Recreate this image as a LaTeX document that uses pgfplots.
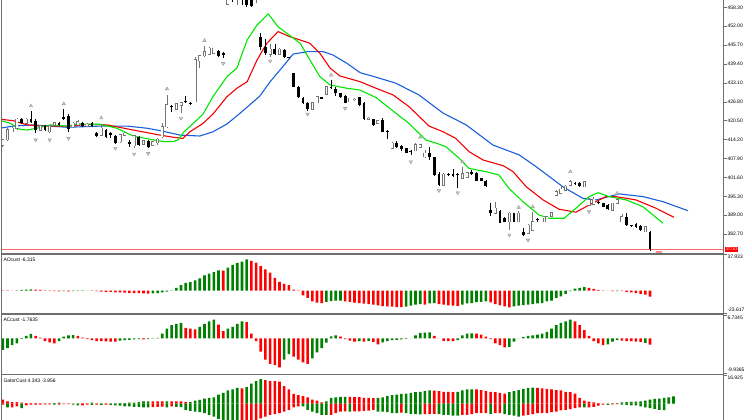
\documentclass[border=0pt]{standalone}
\usepackage{pgfplots}
\pgfplotsset{compat=1.18}
\usepackage{pgfplotstable}
\usepackage{fontspec}
\setmainfont{Liberation Sans}
\definecolor{mtgreen}{RGB}{0,128,0}
\definecolor{mtred}{RGB}{255,0,0}
\definecolor{lips}{RGB}{0,230,0}
\definecolor{teeth}{RGB}{240,0,0}
\definecolor{jaw}{RGB}{25,95,220}
\definecolor{frame}{RGB}{110,110,110}
\definecolor{fract}{RGB}{205,205,205}
\definecolor{fractd}{RGB}{150,150,150}
\definecolor{bullc}{RGB}{115,115,115}
\newcommand{\lbl}{\fontsize{5}{6}\selectfont}

\pgfplotstableread{
i O H L C
0 412.4 414.4 411.7 414.1
1 414.1 418.1 413.7 417.4
2 416.8 418.4 416.7 418.0
3 418.0 421.4 417.4 421.0
4 421.0 421.4 419.4 419.8
5 419.6 421.4 419.4 421.0
6 421.0 423.8 419.8 420.2
7 420.5 421.1 416.4 417.4
8 417.4 419.1 417.1 418.7
9 418.7 419.1 417.1 417.4
10 416.8 419.1 416.3 418.7
11 419.0 420.2 418.7 419.8
12 419.7 420.1 418.7 419.0
13 421.6 424.3 420.7 421.0
14 422.1 422.7 416.7 417.6
15 418.5 420.1 418.2 419.6
16 419.1 420.7 418.7 420.2
17 419.6 420.1 418.4 418.7
18 418.7 419.7 418.4 419.3
19 419.6 420.0 418.4 418.7
20 416.3 416.7 415.1 415.4
21 415.7 419.3 415.4 418.0
22 417.4 417.7 414.8 415.2
23 416.3 416.8 414.6 415.7
24 415.4 415.7 412.7 413.2
25 413.5 416.1 413.2 415.7
26 415.7 416.7 415.4 416.3
27 413.5 414.1 411.8 412.7
28 412.1 415.7 411.3 415.4
29 415.2 415.5 412.1 412.4
30 412.7 414.1 412.4 413.8
31 413.8 414.1 411.4 411.6
32 412.4 413.7 412.2 413.5
33 413.2 414.6 412.4 414.3
34 415.2 419.6 414.6 418.5
35 418.5 429.1 418.2 425.7
36 425.4 425.6 423.5 425.0
37 424.3 426.4 424.1 426.1
38 425.6 426.7 422.9 426.5
39 427.0 428.7 426.3 426.8
40 426.5 426.7 425.8 426.1
41 426.8 441.6 426.7 440.7
42 440.5 442.4 438.0 442.1
43 442.1 445.4 441.8 443.5
44 442.7 445.0 442.5 444.6
45 443.0 444.8 442.7 444.6
46 443.8 444.2 441.7 442.1
47 443.2 443.5 441.4 442.4
48 459.4 465.4 459.1 464.1
49 465.7 467.4 460.1 462.4
50 461.7 468.1 459.1 466.7
51 464.7 466.1 459.1 461.4
52 463.4 464.7 458.4 459.1
53 462.4 463.4 458.4 458.7
54 461.4 465.7 459.7 464.7
55 448.3 449.6 444.1 445.2
56 445.2 447.6 442.4 443.0
57 442.7 446.1 441.7 444.3
58 444.3 446.1 442.4 442.7
59 442.7 444.7 442.4 444.3
60 444.1 444.4 441.4 441.6
61 441.7 441.8 441.0 441.4
62 436.3 436.5 431.6 431.8
63 431.8 432.1 428.0 428.3
64 428.0 428.3 426.1 426.3
65 426.5 426.8 423.8 424.3
66 424.3 426.8 424.1 426.5
67 426.5 428.7 426.3 428.5
68 428.3 428.4 427.7 427.8
69 429.4 432.1 429.2 431.8
70 431.8 434.1 431.1 431.4
71 431.0 431.8 428.7 429.6
72 429.6 429.8 428.1 428.3
73 428.7 429.1 426.3 426.5
74 426.8 428.2 426.6 428.0
75 427.5 428.2 427.2 427.6
76 428.3 428.5 425.5 425.7
77 426.3 426.7 420.7 421.0
78 421.0 421.7 420.7 421.3
79 421.0 421.2 418.7 419.1
80 419.6 420.7 419.4 420.4
81 420.7 421.4 416.6 416.8
82 417.2 417.4 414.3 416.8
83 411.3 413.5 411.1 413.0
84 413.0 413.7 411.4 411.6
85 412.1 412.3 410.5 411.0
86 411.3 411.5 409.6 409.8
87 410.2 410.7 409.1 410.0
88 410.5 413.0 410.3 412.4
89 411.6 412.7 411.4 412.4
90 408.5 410.7 408.0 409.6
91 409.8 411.6 407.4 408.3
92 408.3 408.5 402.2 402.4
93 402.9 403.4 398.8 399.1
94 399.1 403.1 398.8 402.7
95 402.6 403.1 402.1 402.4
96 402.7 404.3 401.8 402.1
97 402.9 403.2 398.0 402.4
98 401.3 405.2 401.1 402.9
99 401.6 403.4 401.4 403.2
100 403.4 404.1 402.4 402.9
101 403.2 403.4 400.3 400.5
102 401.3 401.5 400.3 400.5
103 400.5 400.7 398.4 398.7
104 390.9 393.0 388.7 389.6
105 389.6 393.5 389.4 391.3
106 390.4 390.7 386.3 386.5
107 388.0 388.4 386.6 386.8
108 386.8 390.1 384.1 389.6
109 389.6 389.8 386.6 386.8
110 386.8 390.4 386.6 389.6
111 383.5 384.9 382.1 382.4
112 383.0 386.1 382.7 385.7
113 384.1 390.2 383.7 386.8
114 387.5 388.0 386.8 387.3
115 386.8 388.2 386.6 388.0
116 386.8 388.7 386.6 388.5
117 388.7 390.1 388.5 389.8
118 395.7 397.4 395.4 396.8
119 396.3 399.1 396.1 397.6
120 397.4 399.0 397.2 398.7
121 399.1 400.9 398.8 400.2
122 399.8 400.1 399.2 399.4
123 399.8 400.1 398.5 398.7
124 398.5 400.4 398.3 400.2
125 392.4 394.6 392.1 394.1
126 392.7 395.2 392.5 394.3
127 393.5 393.8 392.7 393.0
128 393.0 393.2 391.6 391.8
129 392.4 392.6 390.7 391.0
130 390.7 393.2 390.5 393.0
131 393.0 394.8 392.7 394.1
132 386.8 389.4 386.6 388.5
133 388.5 389.8 385.5 385.7
134 385.5 385.8 385.1 385.3
135 386.1 386.3 384.7 385.0
136 385.4 385.6 383.8 384.1
137 383.5 385.4 383.3 385.2
138 383.5 383.8 377.1 377.6
}\candles

\pgfplotstableread{
i v c
0 0.2 0
1 0.1 0
2 -0.1 0
3 0.2 1
4 0.6 1
5 1.0 1
6 1.3 1
7 1.1 0
8 0.6 0
9 0.2 0
10 -0.3 0
11 -0.6 0
12 -0.8 0
13 -0.7 1
14 -0.9 0
15 -0.6 1
16 -0.4 1
17 -0.3 1
18 -0.2 1
19 -0.4 0
20 -0.7 0
21 -1.0 0
22 -1.3 0
23 -1.5 0
24 -1.8 0
25 -2.0 0
26 -2.2 0
27 -2.5 0
28 -2.7 0
29 -2.8 0
30 -3.0 0
31 -3.1 0
32 -2.9 1
33 -2.6 1
34 -2.0 1
35 -1.0 1
36 0.3 1
37 2.8 1
38 5.7 1
39 8.1 1
40 8.8 1
41 10.6 1
42 12.7 1
43 15.9 1
44 17.7 1
45 19.4 1
46 21.2 1
47 20.9 0
48 24.0 1
49 26.9 1
50 29.0 1
51 30.4 1
52 32.9 1
53 31.1 0
54 29.4 0
55 25.8 0
56 22.3 0
57 18.8 0
58 13.4 0
59 9.2 0
60 7.1 0
61 5.7 0
62 1.1 0
63 -0.3 0
64 -5.0 0
65 -7.8 0
66 -11.3 0
67 -12.6 0
68 -13.3 0
69 -12.0 1
70 -11.0 1
71 -10.7 1
72 -10.5 1
73 -11.3 0
74 -12.0 0
75 -12.7 0
76 -13.1 0
77 -13.8 0
78 -14.2 0
79 -14.9 0
80 -15.6 0
81 -16.4 0
82 -16.6 0
83 -17.0 0
84 -17.3 0
85 -17.4 0
86 -17.0 1
87 -15.9 1
88 -14.9 1
89 -14.2 1
90 -14.9 0
91 -13.6 1
92 -13.1 1
93 -14.2 0
94 -14.9 0
95 -15.6 0
96 -15.8 0
97 -16.0 0
98 -14.9 1
99 -13.4 1
100 -13.1 1
101 -12.3 1
102 -12.0 1
103 -11.3 1
104 -12.4 0
105 -14.2 0
106 -15.6 0
107 -16.6 0
108 -17.7 0
109 -16.6 1
110 -15.8 1
111 -15.4 1
112 -14.9 1
113 -14.2 1
114 -13.5 1
115 -13.1 1
116 -11.3 1
117 -10.6 1
118 -7.8 1
119 -6.0 1
120 -3.5 1
121 -0.7 1
122 2.1 1
123 2.8 1
124 3.5 1
125 2.8 0
126 1.8 0
127 0.4 0
128 -0.3 0
129 -0.2 1
130 -0.7 0
131 -0.5 1
132 -0.7 0
133 -1.4 0
134 -1.8 0
135 -2.8 0
136 -3.5 0
137 -4.2 0
138 -6.3 0
}\aodata

\pgfplotstableread{
i v c
0 -3.3 1
1 -2.8 1
2 -1.9 1
3 -1.4 1
4 -0.1 1
5 0.75 1
6 1.3 1
7 0.75 0
8 0.2 0
9 -0.75 0
10 -1.1 0
11 -1.4 0
12 -0.75 1
13 0.5 1
14 0.9 1
15 0.95 1
16 0.7 0
17 0.2 0
18 -0.2 0
19 -0.5 0
20 -0.75 0
21 -0.8 0
22 -0.85 0
23 -0.9 0
24 -0.95 0
25 -0.6 1
26 -0.5 1
27 -0.4 1
28 -0.3 1
29 -0.2 1
30 -0.25 0
31 -0.2 1
32 0.1 1
33 0.15 1
34 1.4 1
35 2.8 1
36 3.8 1
37 4.2 1
38 4.5 1
39 3.0 0
40 2.8 0
41 2.6 0
42 3.3 1
43 4.2 1
44 4.9 1
45 5.4 1
46 4.0 0
47 2.1 0
48 2.8 1
49 3.3 1
50 4.2 1
51 4.9 1
52 4.7 0
53 1.4 0
54 -0.75 0
55 -3.8 0
56 -6.1 0
57 -7.3 0
58 -7.7 0
59 -8.3 0
60 -6.1 1
61 -4.5 1
62 -5.2 0
63 -6.1 0
64 -6.9 0
65 -7.3 0
66 -5.7 1
67 -4.0 1
68 -2.8 1
69 -1.2 1
70 0.6 1
71 0.9 1
72 0.5 0
73 -0.2 0
74 -0.6 0
75 -0.9 0
76 -0.8 1
77 -0.9 0
78 -0.7 1
79 -1.0 0
80 -1.7 0
81 -1.1 1
82 -0.75 1
83 -0.5 1
84 -0.4 1
85 -0.3 1
86 -0.1 1
87 0.05 1
88 0.9 1
89 1.6 1
90 1.7 1
91 1.75 1
92 0.75 0
93 0.05 0
94 -0.7 0
95 -0.75 0
96 -0.8 0
97 -0.5 1
98 0.9 1
99 1.4 1
100 1.45 1
101 1.4 0
102 1.1 0
103 0.5 0
104 -0.2 0
105 -1.4 0
106 -1.9 0
107 -2.6 0
108 -2.4 1
109 -0.9 1
110 0.05 1
111 0.4 1
112 0.75 1
113 0.9 1
114 1.1 1
115 1.4 1
116 1.9 1
117 2.8 1
118 3.8 1
119 4.5 1
120 4.9 1
121 5.4 1
122 4.9 0
123 3.8 0
124 2.4 0
125 0.75 0
126 -0.75 0
127 -1.4 0
128 -1.9 0
129 -1.7 1
130 -0.9 1
131 -0.5 1
132 -0.6 0
133 -0.75 0
134 -0.8 0
135 -0.9 0
136 -1.0 0
137 -1.3 1
138 -1.76 0
}\acdata

\pgfplotstableread{
i up cu low cl
0 2.44 0 -0.61 0
1 1.43 0 -2.24 1
2 1.02 0 -2.24 0
3 1.02 0 -1.63 0
4 0.61 0 -2.65 1
5 0.41 0 -1.02 0
6 0.41 0 -0.61 0
7 0.41 0 -0.61 0
8 0.2 0 -0.61 0
9 0.2 0 -0.41 0
10 0.2 0 -0.41 0
11 0.41 1 -0.61 1
12 0.61 1 -0.61 0
13 0.05 0 -0.2 0
14 0.05 0 -0.2 0
15 0.05 0 -0.61 1
16 0.2 1 -1.02 1
17 0.2 0 -1.02 0
18 0.2 0 -0.61 0
19 0.61 1 -0.65 1
20 0.2 0 -0.61 0
21 0.25 1 -0.65 1
22 0.25 0 -0.61 0
23 0.2 0 -0.65 1
24 0.25 1 -1.02 1
25 0.3 1 -1.22 1
26 0.35 1 -1.63 1
27 0.61 1 -1.65 1
28 0.65 1 -1.83 1
29 1.02 1 -1.85 1
30 1.43 1 -2.24 1
31 1.45 1 -2.26 1
32 1.40 0 -2.04 0
33 1.38 0 -1.83 0
34 1.35 0 -1.80 0
35 1.43 1 -2.24 1
36 1.40 0 -1.63 0
37 1.38 0 -1.83 1
38 1.35 0 -2.04 1
39 1.02 0 -3.67 1
40 1.10 1 -4.28 1
41 1.83 1 -4.69 1
42 2.24 1 -5.09 1
43 3.06 1 -5.70 1
44 3.46 1 -6.72 1
45 3.87 1 -7.74 1
46 5.50 1 -9.17 1
47 6.52 1 -10.5 1
48 7.94 1 -11 1
49 8.56 1 -12 1
50 9.57 1 -12.5 1
51 9.17 0 -12.4 0
52 9.98 1 -12 0
53 12.0 1 -11.5 0
54 13.6 1 -11 0
55 14.7 1 -8.76 0
56 14.1 0 -7.74 0
57 13.6 0 -6.72 0
58 13.5 0 -6.31 0
59 13.2 0 -5.70 0
60 10.6 0 -4.69 0
61 8.56 0 -3.67 0
62 5.91 0 -2.24 0
63 5.09 0 -1.63 0
64 4.48 0 -1.65 1
65 3.87 0 -3.67 1
66 2.44 0 -4.69 1
67 1.83 0 -5.70 1
68 0.81 0 -6.72 1
69 1.43 1 -6.75 1
70 3.46 1 -6.72 0
71 3.87 1 -5.70 0
72 4.07 1 -4.69 0
73 4.10 1 -4.65 0
74 4.05 0 -4.70 1
75 4.00 0 -4.65 0
76 3.90 0 -4.60 0
77 3.50 0 -4.28 0
78 3.46 0 -4.20 0
79 3.40 0 -3.67 0
80 3.46 1 -4.69 1
81 3.87 1 -4.70 1
82 4.48 1 -5.09 1
83 5.09 1 -5.70 1
84 5.50 1 -5.72 1
85 5.91 1 -5.30 0
86 6.11 1 -5.70 1
87 6.52 1 -6.11 1
88 6.93 1 -6.31 1
89 7.13 1 -6.33 1
90 7.54 1 -6.31 0
91 7.94 1 -6.30 0
92 7.90 0 -6.11 0
93 7.54 0 -6.31 1
94 7.13 0 -6.72 1
95 7.10 0 -6.75 1
96 6.93 0 -7.13 1
97 7.13 1 -7.15 1
98 7.94 1 -6.72 0
99 8.56 1 -6.70 0
100 8.60 1 -6.31 0
101 8.56 0 -5.70 0
102 8.15 0 -5.68 0
103 7.54 0 -5.65 0
104 7.13 0 -6.11 1
105 6.93 0 -5.70 0
106 6.52 0 -5.68 0
107 6.11 0 -6.31 1
108 6.93 1 -6.72 1
109 7.54 1 -7.13 1
110 8.15 1 -7.74 1
111 8.96 1 -7.13 0
112 9.57 1 -6.72 0
113 9.60 1 -6.31 0
114 9.57 0 -5.70 0
115 9.17 0 -5.68 0
116 8.96 0 -5.65 0
117 8.56 0 -5.09 0
118 8.15 0 -4.69 0
119 7.94 0 -4.07 0
120 7.13 0 -3.67 0
121 6.93 0 -3.26 0
122 6.11 0 -2.65 0
123 3.46 0 -2.24 0
124 1.83 0 -2.26 1
125 1.22 0 -2.24 0
126 0.81 0 -1.83 0
127 0.41 0 -1.22 0
128 0.05 0 -0.61 0
129 0.08 1 -0.63 1
130 0.2 1 -0.41 0
131 0.41 1 -0.2 0
132 0.81 1 -0.61 1
133 1.02 1 -0.63 1
134 1.05 1 -1.02 1
135 1.22 1 -1.04 1
136 1.43 1 -1.63 1
137 1.83 1 -2.24 1
138 2.44 1 -2.65 1
139 2.85 1 -3.06 1
140 3.06 1 -3.67 1
141 3.46 1 -3.86 1
142 3.87 1 0 1
143 4.34 1 0 1
}\gatordata

\pgfplotsset{
  mtaxis/.style={scale only axis, width=722pt, xmin=-0.277, xmax=153.67,
    anchor=north west, axis line style={draw=none}, xtick=\empty,
    ytick pos=right, yticklabel pos=right, tick align=outside,
    major tick length=3pt, tick style={frame, line width=0.5pt},
    yticklabel style={font=\lbl, inner sep=0.8pt, text=black}},
  hbar/.style={ybar, bar width=2.6pt, bar shift=0pt, draw=none},
  seg/.style 2 args={draw=none, mark=none, error bars/.cd, y dir=plus, y explicit,
    error mark=none, error bar style={draw=#1, solid, line width=#2}},
}

\begin{document}
\begin{tikzpicture}
\useasboundingbox (0,0) rectangle (752pt,-420pt);

% ---------------- main price window ----------------
\begin{axis}[mtaxis, at={(1.5pt,0pt)}, height=252.5pt,
  ymin=376.57, ymax=460.73,
  ytick={458.3,452,445.7,439.4,433.1,426.8,420.5,414.2,407.9,401.6,395.3,389,382.7},
  yticklabels={458.30,452.00,445.70,439.40,433.10,426.80,420.50,414.20,407.90,401.60,395.30,389.00,382.70}]

\addplot[red!60, line width=0.6pt] coordinates {(-1,377.63) (160,377.63)};

\addplot[jaw, line width=1.1pt] coordinates {
(-0.6,418.0) (2.2,418.7) (6.4,419.1) (13.7,418.3) (20.7,418.7) (26.5,418.7) (30.7,418.0)
(33.5,417.2) (37.8,415.7) (42.0,415.4) (44.8,416.8) (47.8,419.4) (50.6,423.0) (54.8,428.7)
(57.0,433.5) (59.7,438.5) (61.9,442.7) (64.9,443.5) (68.3,443.5) (70.4,442.4) (73.4,439.6)
(76.2,436.5) (79.6,435.0) (83.8,433.0) (88.7,429.1) (93.9,423.0) (98.8,419.1) (104.5,412.4)
(110.1,409.1) (113.7,405.2) (119.4,398.5) (123.7,394.6) (126.5,394.1) (131.4,396.1)
(136.5,395.2) (140.8,393.5) (146.1,390.5)};

\addplot[teeth, line width=1.1pt] coordinates {
(-0.6,421.0) (2.2,420.5) (5.2,419.1) (7.9,418.7) (13.7,418.7) (19.2,419.3) (22.2,419.1)
(27.8,417.4) (33.5,415.7) (36.3,415.0) (38.4,414.6) (39.9,416.8) (42.7,419.6) (44.8,422.7)
(47.8,428.5) (49.9,431.3) (52.1,433.5) (54.2,440.7) (56.3,446.3) (58.7,450.2) (61.2,448.5)
(63.4,447.4) (65.5,446.3) (67.6,443.0) (69.8,438.0) (71.9,435.4) (76.2,433.5) (79.6,431.3)
(83.2,429.1) (86.6,425.2) (90.9,418.7) (93.9,416.8) (96.6,414.6) (99.4,410.2) (102.4,407.4)
(106.7,405.5) (108.8,403.5) (111.6,398.5) (115.2,394.1) (118.6,391.0) (122.2,390.0)
(125.0,392.4) (128.6,395.2) (130.7,395.2) (135.0,394.1) (139.3,391.3) (143.1,388.3)};

\addplot[lips, line width=1.1pt] coordinates {
(-0.6,420.6) (1.5,419.7) (3.7,417.6) (5.2,417.4) (7.3,418.0) (10.1,419.1) (13.7,418.7)
(15.8,419.4) (20.7,419.3) (24.3,418.0) (27.8,415.4) (31.4,414.3) (34.5,413.5) (36.5,413.6)
(37.5,414.2) (38.5,416.6) (40.6,419.6) (42.7,422.7) (44.8,428.5) (47.8,435.2) (49.9,438.0)
(52.1,447.4) (54.2,452.4) (56.6,456.1) (58.7,451.8) (60.6,449.6) (63.4,446.3) (65.5,440.7)
(67.6,435.2) (69.8,432.4) (73.4,431.3) (76.2,430.7) (79.6,428.2) (83.8,423.0) (86.6,419.6)
(90.2,414.1) (93.0,412.7) (94.5,411.8) (97.3,408.0) (99.4,404.6) (103.0,403.5) (105.8,402.4)
(107.9,398.0) (110.9,393.5) (114.3,389.1) (116.5,388.0) (119.7,388.0) (122.2,391.3)
(125.0,395.2) (126.9,396.5) (129.3,395.2) (132.9,394.1) (136.5,391.8) (140.8,386.3)};

% wicks
\addplot[seg={black}{0.6pt}] table[x=i, y expr={\thisrow{C}<\thisrow{O} ? \thisrow{L} : nan},
  y error plus expr={\thisrow{H}-\thisrow{L}}] {\candles};
\addplot[seg={bullc}{0.6pt}] table[x=i, y expr={\thisrow{C}<\thisrow{O} ? nan : \thisrow{L}},
  y error plus expr={\thisrow{H}-\thisrow{L}}] {\candles};
% bear bodies
\addplot[seg={black}{2.8pt}] table[x=i, y expr={\thisrow{C}<\thisrow{O} ? \thisrow{C} : nan},
  y error plus expr={max(\thisrow{O}-\thisrow{C},0.3)}] {\candles};
% bull bodies
\addplot[seg={bullc}{3pt}] table[x=i, y expr={\thisrow{C}<\thisrow{O} ? nan : \thisrow{O}-0.2},
  y error plus expr={\thisrow{C}-\thisrow{O}+0.4}] {\candles};
\addplot[seg={white}{1.6pt}] table[x=i, y expr={\thisrow{C}<\thisrow{O} ? nan : \thisrow{O}},
  y error plus expr={\thisrow{C}-\thisrow{O}}] {\candles};

% fractals
\addplot[only marks, mark=triangle*, mark size=2pt, mark options={fill=fract, draw=fractd, line width=0.4pt}] coordinates {
(6,425.4) (13,426.1) (21,421.4) (35,431.1) (43,447.2) (70,435.7) (89,415.0) (98,406.8)
(110,391.6) (113,391.8) (121,403.5) (131,396.3)};
\addplot[only marks, mark=triangle*, mark size=2pt, mark options={fill=fract, draw=fractd, line width=0.4pt, rotate=180}] coordinates {
(7,414.1) (10,414.1) (14,414.6) (24,411.3) (28,409.4) (31,409.6) (38,421.3) (47,439.6)
(57,440.4) (65,422.7) (73,424.6) (87,406.8) (93,397.2) (97,396.5) (108,382.4) (112,380.7) (125,390.2)};

\coordinate (pricept) at (axis cs:153.67,377.63);
\end{axis}

% ---------------- AO window ----------------
\begin{axis}[mtaxis, at={(1.5pt,-254.5pt)}, height=58.5pt,
  ymin=-23.617, ymax=37.933,
  ytick={37.933}, yticklabels={37.933}, yticklabel style={anchor=north west},
  extra y ticks={-23.617}, extra y tick labels={-23.617},
  extra y tick style={yticklabel style={anchor=south west}}]
\addplot[hbar, fill=mtgreen] table[x=i, y expr={\thisrow{c}==1 ? \thisrow{v} : nan}] {\aodata};
\addplot[hbar, fill=mtred] table[x=i, y expr={\thisrow{c}==1 ? nan : \thisrow{v}}] {\aodata};
\node[anchor=north west, font=\lbl, inner sep=0pt, xshift=1.8pt, yshift=-3.5pt] at (rel axis cs:0,1) {AOcust -6.315};
\end{axis}

% ---------------- AC window ----------------
\begin{axis}[mtaxis, at={(1.5pt,-315pt)}, height=58pt,
  ymin=-9.9365, ymax=6.7345,
  ytick={6.7345}, yticklabels={6.7345}, yticklabel style={anchor=north west},
  extra y ticks={-9.9365}, extra y tick labels={-9.9365},
  extra y tick style={yticklabel style={anchor=south west}}]
\addplot[hbar, fill=mtgreen] table[x=i, y expr={\thisrow{c}==1 ? \thisrow{v} : nan}] {\acdata};
\addplot[hbar, fill=mtred] table[x=i, y expr={\thisrow{c}==1 ? nan : \thisrow{v}}] {\acdata};
\node[anchor=north west, font=\lbl, inner sep=0pt, xshift=1.8pt, yshift=-3pt] at (rel axis cs:0,1) {ACcust -1.7635};
\end{axis}

% ---------------- Gator window ----------------
\begin{axis}[mtaxis, at={(1.5pt,-375.5pt)}, height=44.5pt,
  ymin=-9.78, ymax=16.925,
  ytick={16.925}, yticklabels={16.925}, yticklabel style={anchor=north west}]
\addplot[hbar, fill=mtgreen] table[x=i, y expr={\thisrow{cu}==1 ? \thisrow{up} : nan}] {\gatordata};
\addplot[hbar, fill=mtred] table[x=i, y expr={\thisrow{cu}==1 ? nan : \thisrow{up}}] {\gatordata};
\addplot[hbar, fill=mtgreen] table[x=i, y expr={\thisrow{cl}==1 ? \thisrow{low} : nan}] {\gatordata};
\addplot[hbar, fill=mtred] table[x=i, y expr={\thisrow{cl}==1 ? nan : \thisrow{low}}] {\gatordata};
\node[anchor=north west, font=\lbl, inner sep=0pt, xshift=1.8pt, yshift=-3pt] at (rel axis cs:0,1) {GatorCust 4.343 -3.856};
\end{axis}

% frame and separators
\draw[frame, line width=1.3pt] (1.5pt,-253.9pt) -- (723.5pt,-253.9pt);
\draw[frame, line width=1.3pt] (1.5pt,-313.9pt) -- (723.5pt,-313.9pt);
\draw[frame, line width=1.3pt] (1.5pt,-374.2pt) -- (723.5pt,-374.2pt);
\draw[frame, line width=0.7pt] (1.5pt,0pt) -- (1.5pt,-420pt);
\draw[frame, line width=0.8pt] (723.5pt,0pt) -- (723.5pt,-420pt);
\draw[red!45, line width=0.5pt, fill=white] (656.7pt,-250.8pt) rectangle (661pt,-252.4pt);
\node[anchor=west, fill=red, text=white, font=\fontsize{3.8}{4}\selectfont, inner sep=0.6pt, minimum height=5.6pt, xshift=1.5pt] at (pricept) {377.63};
\end{tikzpicture}
\end{document}
